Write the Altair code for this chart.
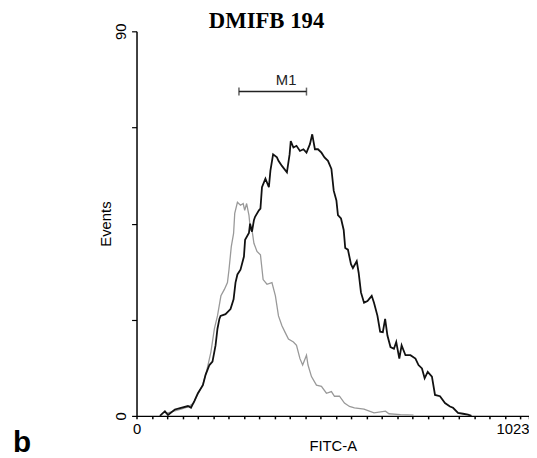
import altair as alt
import pandas as pd

# FITC-A channel / Events for the sample (black) histogram
sample_x = [61, 74, 82, 100, 116, 134, 142, 151, 160, 173, 180, 190, 198, 206, 211, 216, 219, 232, 245,
            253, 258, 263, 271, 280, 283, 293, 296, 301, 306, 309, 319, 323, 327, 336, 345, 349, 356,
            366, 370, 379, 392, 399, 402, 409, 417, 426, 435, 443, 452, 458, 465, 473, 482, 490, 499,
            508, 514, 521, 525, 533, 540, 544, 551, 559, 564, 574, 579, 585, 593, 602, 613, 619, 628,
            635, 642, 648, 654, 662, 671, 677, 685, 691, 701, 714, 727, 735, 744, 751, 759, 770, 778,
            791, 804, 817, 825, 838, 851, 864, 873]
sample_y = [0, 1.1, 0.2, 1.5, 1.9, 2.3, 1.9, 3.5, 5.3, 7.2, 9.6, 11.9, 12.7, 16.5, 20.4, 22.7, 23.4, 23.8, 25.0,
            27.3, 31.2, 33.1, 34.2, 37.3, 41.2, 42.8, 45.0, 43.1, 45.8, 46.6, 48.1, 48.5, 53.5, 55.5, 53.5, 57.4, 61.2,
            60.5, 59.7, 58.5, 57.0, 61.2, 64.3, 62.8, 63.2, 62.0, 62.4, 61.6, 63.6, 65.9, 62.4, 62.4, 61.6, 60.5, 59.7,
            57.8, 52.7, 50.4, 47.0, 46.2, 43.5, 39.3, 38.9, 35.5, 34.6, 36.2, 33.5, 28.9, 26.5, 26.9, 28.1, 26.5, 23.4,
            19.7, 19.6, 22.7, 18.8, 16.1, 15.7, 17.3, 13.4, 16.5, 14.2, 14.2, 13.4, 11.9, 11.1, 8.8, 10.3, 9.2, 4.9,
            4.6, 3.0, 2.2, 1.9, 0.7, 0.5, 0.3, 0]

# FITC-A channel / Events for the control (grey) histogram
control_x = [74, 82, 100, 116, 134, 149, 160, 173, 183, 194, 203, 211, 220, 229, 237, 241, 247, 253, 256,
             263, 271, 278, 282, 287, 293, 297, 301, 306, 314, 323, 330, 340, 353, 362, 370, 379, 387, 396,
             409, 417, 426, 433, 443, 447, 456, 469, 482, 495, 508, 516, 529, 542, 555, 568, 593, 619, 649,
             658, 688, 722]
control_y = [0.7, 0.7, 1.2, 1.6, 2.1, 3.0, 5.1, 7.4, 10.6, 15.0, 20.4, 23.4, 28.1, 29.6, 31.2, 34.2, 39.6, 42.7, 47.4,
             50.0, 49.3, 49.7, 48.1, 49.7, 47.0, 43.5, 43.5, 40.4, 38.5, 37.7, 31.9, 30.8, 31.2, 28.1, 23.4, 21.1, 19.6, 18.0,
             17.3, 16.5, 13.4, 11.9, 14.2, 11.9, 9.2, 7.2, 6.9, 5.3, 5.7, 4.6, 4.6, 3.0, 2.2, 1.9, 1.6, 0.7, 1.1,
             0.5, 0.3, 0.2]

# Marker M1 (gate) range and level
m1_start = 267
m1_end = 443
m1_level = 75.9
m1_label = "M1"
m1_label_x = 390

x_tick_values = list(range(0, 1001, 40)) + [1023]
y_tick_values = [0, 22.5, 45, 67.5, 90]

df = pd.concat([
    pd.DataFrame({"channel": control_x, "events": control_y, "series": "control"}),
    pd.DataFrame({"channel": sample_x, "events": sample_y, "series": "sample"}),
])
marker_df = pd.DataFrame({"start": [m1_start], "end": [m1_end], "level": [m1_level],
                          "mid": [m1_label_x], "label": [m1_label]})
caps_df = pd.DataFrame({"x": [m1_start, m1_end], "level": [m1_level, m1_level]})

x_scale = alt.Scale(domain=[0, 1023], nice=False, zero=False)
y_scale = alt.Scale(domain=[0, 90], nice=False)

x_axis = alt.Axis(
    values=x_tick_values, tickCount=100, title="FITC-A", grid=False, format="d", labelOverlap=False,
    labelExpr="datum.value == 0 || datum.value == 1023 ? datum.label : ''",
    labelAlign={"condition": {"test": "datum.value == 1023", "value": "right"}, "value": "center"},
    labelFont="Liberation Sans", labelFontSize=15, labelColor="black", labelPadding=3,
    tickSize=3, tickColor="black", tickWidth=1.5,
    domainColor="black", domainWidth=1.5,
    titleFont="Liberation Sans", titleFontSize=15, titleFontWeight="normal", titleColor="black",
    titlePadding=2,
)
y_axis = alt.Axis(
    values=y_tick_values, tickCount=100, title="Events", grid=False, labelOverlap=False,
    labelExpr="datum.value == 0 || datum.value == 90 ? datum.label : ''",
    labelAngle=270, labelFont="Liberation Sans", labelFontSize=15, labelColor="black", labelPadding=3,
    tickSize=5, tickColor="black", tickWidth=1.2,
    domainColor="black", domainWidth=1.5,
    titleFont="Liberation Sans", titleFontSize=15, titleFontWeight="normal", titleColor="black",
    titlePadding=0,
)

lines = alt.Chart(df).mark_line(interpolate="linear").encode(
    x=alt.X("channel:Q", scale=x_scale, axis=x_axis),
    y=alt.Y("events:Q", scale=y_scale, axis=y_axis),
    detail="series:N",
    color=alt.Color("series:N", scale=alt.Scale(domain=["control", "sample"], range=["#999999", "#111111"]), legend=None),
    strokeWidth=alt.StrokeWidth("series:N", scale=alt.Scale(domain=["control", "sample"], range=[1.3, 1.8]), legend=None),
)

marker = alt.Chart(marker_df).mark_rule(color="#222222", strokeWidth=1.5).encode(
    x=alt.X("start:Q", scale=x_scale), x2="end:Q", y=alt.Y("level:Q", scale=y_scale)
)
caps = alt.Chart(caps_df).mark_tick(color="#222222", thickness=1.5, size=8, orient="vertical").encode(
    x=alt.X("x:Q", scale=x_scale), y=alt.Y("level:Q", scale=y_scale)
)
marker_text = alt.Chart(marker_df).mark_text(
    font="Liberation Sans", fontSize=15, color="#222222", baseline="alphabetic", dy=-7
).encode(x=alt.X("mid:Q", scale=x_scale), y=alt.Y("level:Q", scale=y_scale), text="label:N")

panel_letter = alt.Chart(pd.DataFrame({"t": ["b"]})).mark_text(
    font="Liberation Sans", fontSize=30, fontWeight="bold", color="black", align="left", baseline="alphabetic"
).encode(x=alt.value(-125), y=alt.value(426), text="t:N")

chart = alt.layer(lines, marker, caps, marker_text, panel_letter).properties(
    width=397, height=389,
    title=alt.TitleParams("DMIFB 194", font="Liberation Serif", fontSize=23, fontWeight="bold",
                          color="black", anchor="middle", dx=-67, dy=14, offset=4),
    autosize=alt.AutoSizeParams(type="none"),
    padding={"left": 130, "top": 21, "right": 0, "bottom": 39},
).configure_view(stroke=None)

chart.save("out.html", embed_options={"renderer": "svg", "actions": False})
